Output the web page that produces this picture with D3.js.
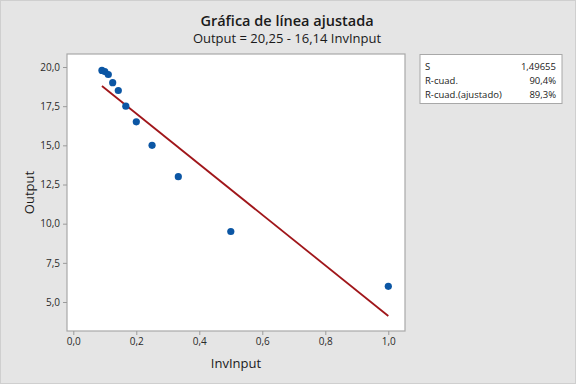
<!DOCTYPE html>
<html><head><meta charset="utf-8">
<script src="https://cdn.jsdelivr.net/npm/d3@7/dist/d3.min.js"></script>
<style>
html,body{margin:0;padding:0;background:#e5e5e5;}
svg{display:block;}
text{font-family:"Open Sans","Noto Sans",sans-serif;}
</style></head>
<body>
<svg id="c" width="576" height="384"></svg>
<script>
const invInput = [1/11, 1/10, 1/9, 1/8, 1/7, 1/6, 1/5, 1/4, 1/3, 1/2, 1];
const output = [19.78, 19.71, 19.52, 19.0, 18.5, 17.5, 16.5, 15.0, 13.0, 9.5, 6.0];
const intercept = 20.25, slope = -16.14;
const xTicks = [0, 0.2, 0.4, 0.6, 0.8, 1.0];
const yTicks = [5, 7.5, 10, 12.5, 15, 17.5, 20];
const statLabels = ["S", "R-cuad.", "R-cuad.(ajustado)"];
const statValues = ["1,49655", "90,4%", "89,3%"];

const svg = d3.select("#c");
const fmt = d3.format(".1f");
const comma = s => s.replace(".", ",");

svg.append("rect").attr("x",0.5).attr("y",0.5).attr("width",575).attr("height",383)
  .attr("fill","#e5e5e5").attr("stroke","#cfcfcf");

const L=67, R=405, T=54, B=331;
const x = d3.scaleLinear().domain([-0.02, 1.053]).range([L, R]);
const y = d3.scaleLinear().domain([3.15, 20.83]).range([B, T]);

svg.append("rect").attr("x",L).attr("y",T).attr("width",R-L).attr("height",B-T)
  .attr("fill","#fff").attr("stroke","#a8a8a8").attr("stroke-width",1.2);

const xAxis = svg.append("g").attr("transform",`translate(0,${B})`)
  .call(d3.axisBottom(x).tickValues(xTicks).tickSize(4).tickPadding(3).tickFormat(d=>comma(fmt(d))));
const yAxis = svg.append("g").attr("transform",`translate(${L},0)`)
  .call(d3.axisLeft(y).tickValues(yTicks).tickSize(4).tickPadding(3).tickFormat(d=>comma(fmt(d))));
[xAxis,yAxis].forEach(a=>{
  a.select(".domain").remove();
  a.selectAll(".tick line").attr("stroke","#9a9a9a");
  a.selectAll(".tick text").attr("fill","#2a2a2a").style("font-size","10px");
});

// fitted line
const x0 = d3.min(invInput), x1 = d3.max(invInput);
svg.append("line")
  .attr("x1",x(x0)).attr("y1",y(intercept+slope*x0))
  .attr("x2",x(x1)).attr("y2",y(intercept+slope*x1))
  .attr("stroke","#a0161a").attr("stroke-width",1.8);

svg.append("g").selectAll("circle").data(invInput).join("circle")
  .attr("cx",(d)=>x(d)).attr("cy",(d,i)=>y(output[i])).attr("r",3.6)
  .attr("fill","#0b56a4");

// titles
svg.append("text").attr("x",287).attr("y",26).attr("text-anchor","middle")
  .style("font-size","14.5px").style("font-weight","600").attr("fill","#1a1a1a")
  .text("Gráfica de línea ajustada");
svg.append("text").attr("x",287).attr("y",43).attr("text-anchor","middle")
  .style("font-size","13px").attr("fill","#1a1a1a")
  .text("Output = 20,25 - 16,14 InvInput");

svg.append("text").attr("x",(L+R)/2).attr("y",368).attr("text-anchor","middle")
  .style("font-size","13px").attr("fill","#1a1a1a").text("InvInput");
svg.append("text").attr("transform",`translate(34,${(T+B)/2}) rotate(-90)`).attr("text-anchor","middle")
  .style("font-size","13px").attr("fill","#1a1a1a").text("Output");

// stats box
svg.append("rect").attr("x",420).attr("y",54.5).attr("width",142).attr("height",49)
  .attr("fill","#fff").attr("stroke","#a8a8a8");
const rows = svg.append("g").selectAll("g").data(statLabels).join("g")
  .attr("transform",(d,i)=>`translate(0,${69.5+i*14})`);
rows.append("text").attr("x",425).style("font-size","9.5px").attr("fill","#1a1a1a").text(d=>d);
rows.append("text").attr("x",556).attr("text-anchor","end").style("font-size","9.5px").attr("fill","#1a1a1a")
  .text((d,i)=>statValues[i]);
</script>
</body></html>
